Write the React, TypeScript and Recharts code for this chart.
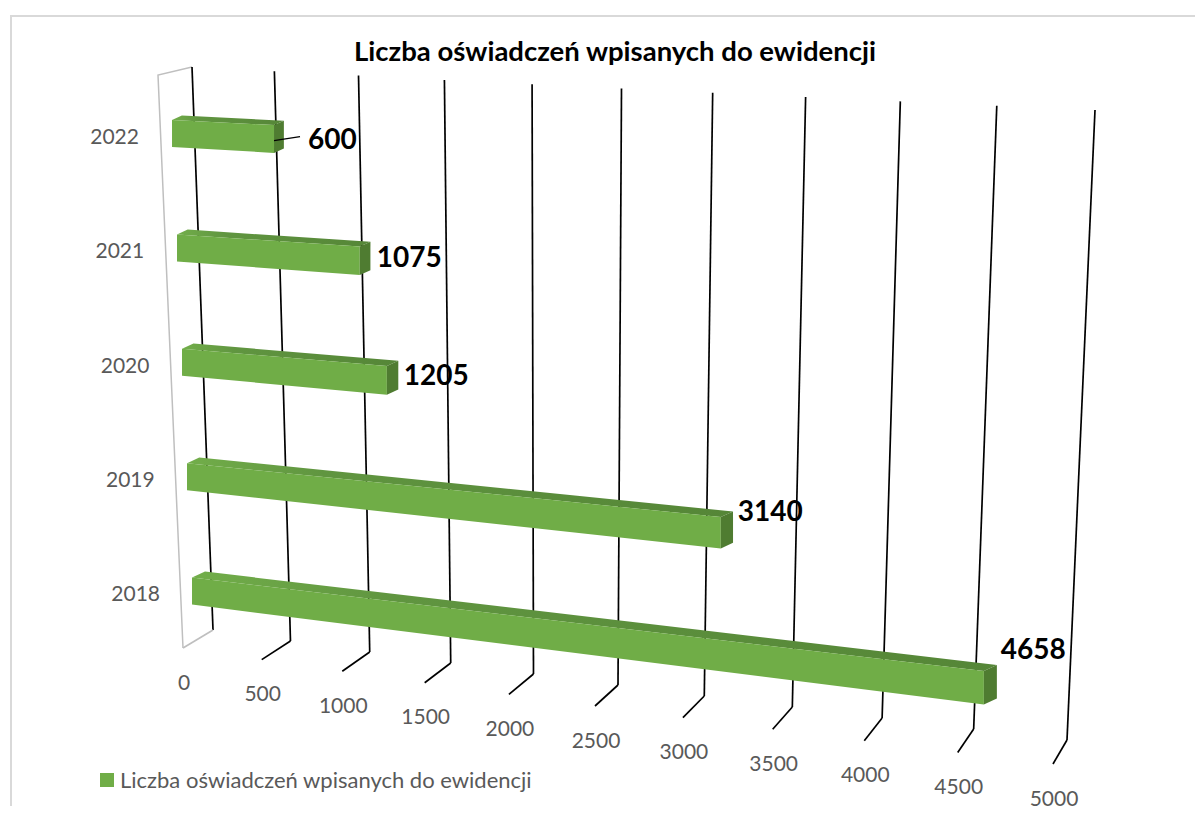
import React from 'react';
import { BarChart, Bar, XAxis, YAxis, CartesianGrid, Legend, LabelList } from 'recharts';

// dane wykresu
const years = ['2022', '2021', '2020', '2019', '2018'];
const counts = [600, 1075, 1205, 3140, 4658];
const xTicks = [0, 500, 1000, 1500, 2000, 2500, 3000, 3500, 4000, 4500, 5000];
const seriesName = 'Liczba oświadczeń wpisanych do ewidencji';
const chartTitle = 'Liczba oświadczeń wpisanych do ewidencji';

const data = years.map((year, i) => ({ year, value: counts[i] }));

const W = 1195;
const H = 806;
const M = { top: 68, right: 171, left: 0, bottom: 136 };
const Y_AXIS_W = 174;
const X_AXIS_H = 30;
const PLOT_LEFT = M.left + Y_AXIS_W;
const PLOT_W = W - M.right - PLOT_LEFT;
const PLOT_BOTTOM = H - M.bottom - X_AXIS_H;
const ROW_BASE = 582.8; // srodek ostatniego wiersza (2018)

const FONT = 'Lato, "Open Sans", sans-serif';
const GREEN = '#70AD47';
const GREY_TEXT = '#595959';

// "perspektywa" imitujaca wykres 3D z Excela
const rowShift = (cy: number) => 10 + (cy - ROW_BASE) * 0.0437;
const rowSlope = (cy: number) => (cy + 208) / 6700;
const floorU = (x: number) => (x - PLOT_LEFT) / PLOT_W;
const bottomDx = (u: number) => 31 - 84 * u + 88 * u * u;
const topDx = (u: number) => bottomDx(u) - (21 - 49 * u);
const stubDx = (u: number) => 1 - 72 * u + 92 * u * u;

const GridLine = (props: any) => {
  const { x1, y1, y2 } = props;
  const u = floorU(x1);
  const tx = x1 + topDx(u);
  const ty = y1 - 9 + 43 * u;
  const bx = x1 + bottomDx(u);
  const by = y2 - 18 + 110 * u;
  const sx = x1 + stubDx(u);
  const sy = y2 + 116 * u;
  const first = u < 0.01;
  return (
    <g key={`v-${x1}`}>
      {first && (
        <polyline
          points={`${sx},${sy} ${tx - 34},${y1 - 1} ${tx},${ty}`}
          fill="none"
          stroke="#BFBFBF"
          strokeWidth={1.5}
        />
      )}
      <line x1={tx} y1={ty} x2={bx} y2={by} stroke="#000" strokeWidth={1.7} />
      <line x1={bx} y1={by} x2={sx} y2={sy} stroke={first ? '#BFBFBF' : '#000'} strokeWidth={1.7} />
    </g>
  );
};

const XTick = (props: any) => {
  const { x, payload } = props;
  const u = floorU(x);
  const cx = x + stubDx(u) + 1;
  const cy = PLOT_BOTTOM + 34 + 116 * u;
  return (
    <text x={cx} y={cy + 7.5} textAnchor="middle" fill={GREY_TEXT} fontSize={21} fontFamily={FONT}>
      {payload.value}
    </text>
  );
};

const YTick = (props: any) => {
  const { y, payload } = props;
  const right = PLOT_LEFT - 22 + (y - ROW_BASE) * 0.046;
  return (
    <text x={right} y={y + 10.5} textAnchor="end" fill={GREY_TEXT} fontSize={21} fontFamily={FONT}>
      {payload.value}
    </text>
  );
};

const Bar3D = (props: any) => {
  const { x, y, width, height, index } = props;
  if (!width || width <= 0) return null;
  const cy = y + height / 2;
  const x0 = x + rowShift(cy);
  const x1 = x0 + width;
  const drop = rowSlope(cy) * width;
  const grow = width * 0.008;
  const k = cy / ROW_BASE;
  const dx = 9 + 4 * k;
  const dy = 4 + 2 * k;
  const yT = y;
  const yB = y + height;
  const gid = `top-grad-${index}`;
  return (
    <g>
      <defs>
        <linearGradient id={gid} x1="0" y1="0" x2="1" y2="0">
          <stop offset="0" stopColor="#72AE4A" />
          <stop offset="0.25" stopColor="#609540" />
          <stop offset="1" stopColor="#558637" />
        </linearGradient>
      </defs>
      <polygon
        points={`${x0},${yT} ${x0 + dx},${yT - dy} ${x1 + dx},${yT + drop - dy} ${x1},${yT + drop}`}
        fill={`url(#${gid})`}
      />
      <polygon
        points={`${x0},${yT} ${x1},${yT + drop} ${x1},${yB + drop + grow} ${x0},${yB}`}
        fill={GREEN}
      />
      <polygon
        points={`${x1},${yT + drop} ${x1 + dx},${yT + drop - dy} ${x1 + dx},${yB + drop + grow - dy} ${x1},${yB + drop + grow}`}
        fill="#4F7C31"
      />
    </g>
  );
};

const ValueLabel = (props: any) => {
  const vb = props.viewBox && props.viewBox.width != null ? props.viewBox : props;
  const { x, y, width, height } = vb;
  const { value, index } = props;
  const cy = y + height / 2;
  const x1 = x + rowShift(cy) + width;
  const drop = rowSlope(cy) * width;
  if (index === 0) {
    const ly = cy + drop;
    return (
      <g>
        <line x1={x1} y1={ly + 2} x2={x1 + 26} y2={ly - 2} stroke="#000" strokeWidth={1.3} />
        <text x={x1 + 34} y={ly + 10} fontSize={28} fontWeight={700} fontFamily={FONT} fill="#000">
          {value}
        </text>
      </g>
    );
  }
  const ly = cy + 0.6 * drop + 2;
  return (
    <text x={x1 + 17} y={ly + 10} fontSize={28} fontWeight={700} fontFamily={FONT} fill="#000">
      {value}
    </text>
  );
};

const LegendContent = (props: any) => {
  const item = props.payload && props.payload[0];
  return (
    <div style={{ display: 'flex', alignItems: 'center', fontFamily: FONT, fontSize: 22, color: GREY_TEXT, lineHeight: '24px' }}>
      <span style={{ display: 'inline-block', width: 14, height: 14, background: item ? item.color : GREEN, marginRight: 6 }} />
      <span>{item ? item.value : seriesName}</span>
    </div>
  );
};

export default function App() {
  return (
    <div style={{ position: 'relative', width: W, height: H, marginBottom: -8, fontFamily: FONT, background: '#fff' }}>
      <div
        style={{
          position: 'absolute',
          left: 2,
          top: 7,
          right: 0,
          bottom: 0,
          borderLeft: '2px solid #D9D9D9',
          borderTop: '2px solid #D9D9D9',
        }}
      />
      <div
        style={{
          position: 'absolute',
          left: 307,
          width: 600,
          top: 29,
          textAlign: 'center',
          fontSize: 27.5,
          lineHeight: '28px',
          fontWeight: 700,
          color: '#000',
        }}
      >
        {chartTitle}
      </div>
      <BarChart width={W} height={H} data={data} layout="vertical" margin={M}>
        <CartesianGrid horizontal={false} vertical={GridLine} />
        <XAxis
          type="number"
          domain={[0, 5000]}
          ticks={xTicks}
          interval={0}
          height={X_AXIS_H}
          axisLine={false}
          tickLine={false}
          tick={<XTick />}
        />
        <YAxis
          type="category"
          dataKey="year"
          width={Y_AXIS_W}
          axisLine={false}
          tickLine={false}
          tick={<YTick />}
        />
        <Legend
          layout="horizontal"
          verticalAlign="middle"
          align="center"
          wrapperStyle={{ left: 92, top: 760, width: 'auto' }}
          content={<LegendContent />}
        />
        <Bar
          dataKey="value"
          name={seriesName}
          fill={GREEN}
          barSize={27}
          shape={<Bar3D />}
          isAnimationActive={false}
        >
          <LabelList dataKey="value" content={<ValueLabel />} />
        </Bar>
      </BarChart>
    </div>
  );
}
